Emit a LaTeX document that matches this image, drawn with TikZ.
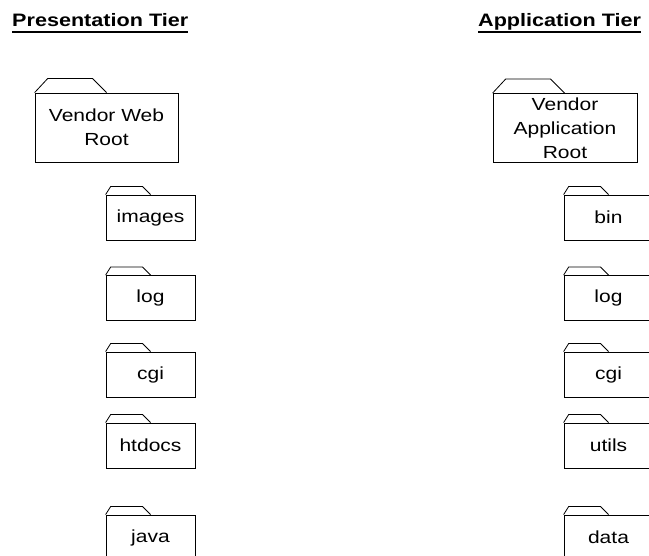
\documentclass[tikz,border=0pt]{standalone}
\usepackage{fontspec}
\setmainfont{Liberation Sans}[FakeStretch=1.2]
\begin{document}
\begin{tikzpicture}[x=1pt, y=-1pt,
  folder/.style={draw, line width=0.8pt, minimum width=89pt, minimum height=45pt,
    inner sep=0pt, font=\fontsize{17.5}{24}\selectfont},
  bigfolder/.style={draw, line width=0.8pt, minimum width=143pt, minimum height=69pt,
    inner sep=0pt, align=center, font=\fontsize{17.5}{24}\selectfont},
  tier/.style={inner sep=0pt, anchor=base west, font=\bfseries\fontsize{18}{22}\selectfont}]
  \useasboundingbox (0,0) rectangle (649,556);
  % tier headings
  \node[tier] (ptier) at (12,27) {Presentation Tier};
  \draw[line width=1.3pt] ([yshift=-5pt]ptier.base west) -- ([yshift=-5pt]ptier.base east);
  \node[tier] (atier) at (478,27) {Application Tier};
  \draw[line width=1.3pt] ([yshift=-5pt]atier.base west) -- ([yshift=-5pt]atier.base east);
  % root folders
  \node[bigfolder] (webroot) at (106.5,127.5) {Vendor Web\\Root};
  \draw[line width=0.8pt] (webroot.north west) -- ++(13,-14) -- ++(45,0) -- ++(14,14);
  \node[bigfolder, minimum width=144pt] (approot) at (565,128) {Vendor\\Application\\Root};
  \draw[line width=0.8pt] (approot.north west) -- ++(13,-14) -- ++(45,0) -- ++(14,14);
  % sub folders
  \foreach \name/\ypos/\txt in {pimages/217.5/images, plog/298/log, pcgi/374.5/cgi,
      phtdocs/445.5/htdocs, pjava/537.5/java} {
    \node[folder] (\name) at (150.5,\ypos) {\txt};
    \draw[line width=0.8pt] (\name.north west) -- ++(5,-8) -- ++(32,0) -- ++(8,8);
  }
  \foreach \name/\ypos/\txt in {abin/217.5/bin, alog/298/log, acgi/374.5/cgi,
      autils/445.5/utils, adata/537.5/data} {
    \node[folder] (\name) at (608.5,\ypos) {\txt};
    \draw[line width=0.8pt] (\name.north west) -- ++(5,-8) -- ++(32,0) -- ++(8,8);
  }
\end{tikzpicture}
\end{document}
